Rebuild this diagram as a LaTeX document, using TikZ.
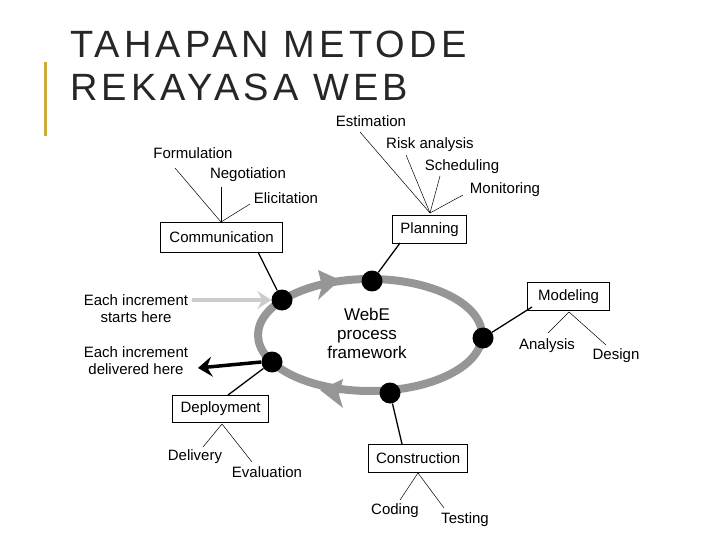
\documentclass[tikz,border=0pt]{standalone}
\usepackage{fontspec}
\setmainfont{Liberation Sans}
\usetikzlibrary{arrows.meta}
\definecolor{gold}{RGB}{205,170,60}
\definecolor{ring}{RGB}{150,150,150}
\begin{document}
\begin{tikzpicture}[x=1pt,y=-1pt,
 box/.style={draw,line width=1.2pt,inner sep=0pt,anchor=north west,font=\fontsize{15}{17}\selectfont},
 lab/.style={font=\fontsize{15}{17}\selectfont,inner sep=1pt},
 thin/.style={line width=0.5pt},
 dot/.style={circle,fill=black,minimum size=21pt,inner sep=0pt}]
\useasboundingbox (0,0) rectangle (720,540);
\fill[gold] (44,62) rectangle (47,136);
\node[anchor=west,font=\fontsize{38}{43}\selectfont\addfontfeatures{LetterSpace=11},align=left,inner sep=0pt,text=black!85] (title) at (70,66) {TAHAPAN METODE\\REKAYASA WEB};
% ring
\draw[ring,line width=8pt] (370,335) ellipse [x radius=112, y radius=56];
\fill[ring] (340,280) -- (318,270) -- (322,286) -- (318,300) -- cycle;
\fill[ring] (320,390) -- (343,379) -- (339,395) -- (343,408) -- cycle;
\node[dot] (d1) at (282,300) {};
\node[dot] (d2) at (372,281) {};
\node[dot] (d3) at (483,338) {};
\node[dot] (d4) at (390,393) {};
\node[dot] (d5) at (272,362) {};
\node[font=\fontsize{17}{19}\selectfont,align=center,inner sep=1pt] (center) at (367,333) {WebE\\process\\framework};
% boxes
\node[box,minimum width=122pt,minimum height=30pt] (comm) at (160,222) {Communication};
\node[box,minimum width=74pt,minimum height=28pt] (plan) at (392,215) {Planning};
\node[box,minimum width=82pt,minimum height=28pt] (model) at (527,282) {Modeling};
\node[box,minimum width=96pt,minimum height=27pt] (deploy) at (172,395) {Deployment};
\node[box,minimum width=99pt,minimum height=28pt] (constr) at (368,444) {Construction};
\draw[line width=1.3pt] (258,252) -- (d1);
\draw[line width=1.3pt] (400,243) -- (d2);
\draw[line width=1.3pt] (532,307) -- (d3);
\draw[line width=1.3pt] (402,444) -- (d4);
\draw[line width=1.3pt] (228,395) -- (d5);
% labels
\node[lab] (f1) at (193,153) {Formulation};
\node[lab] (f2) at (248,175) {Negotiation};
\node[lab] (f3) at (286,198) {Elicitation};
\coordinate (cc) at (221,222);
\draw[thin] (cc) -- (175,168); \draw[thin] (cc) -- (221,187); \draw[thin] (cc) -- (250,204);
\node[lab] (p1) at (371,121) {Estimation};
\node[lab] (p2) at (430,145) {Risk analysis};
\node[lab] (p3) at (462,167) {Scheduling};
\node[lab] (p4) at (505,190) {Monitoring};
\coordinate (pc) at (430,213);
\draw[thin] (pc) -- (360,132); \draw[thin] (pc) -- (406,155); \draw[thin] (pc) -- (440,176); \draw[thin] (pc) -- (463,195);
\node[lab] (m1) at (547,346) {Analysis};
\node[lab] (m2) at (616,356) {Design};
\coordinate (mc) at (569,312);
\draw[thin] (mc) -- (548,333); \draw[thin] (mc) -- (606,345);
\node[lab] (e1) at (195,457) {Delivery};
\node[lab] (e2) at (267,472) {Evaluation};
\coordinate (ec) at (222,424);
\draw[thin] (ec) -- (203,447); \draw[thin] (ec) -- (252,462);
\node[lab] (c1) at (395,511) {Coding};
\node[lab] (c2) at (465,520) {Testing};
\coordinate (ccn) at (418,473);
\draw[thin] (ccn) -- (400,500); \draw[thin] (ccn) -- (444,508);
\node[lab,align=center] (s) at (136,309) {Each increment\\starts here};
\node[lab,align=center] (dl) at (136,361) {Each increment\\delivered here};
\draw[line width=4pt,color=black!20,-{Stealth[length=14pt,width=18pt,inset=5pt]}] (192,300) -- (d1.west);
\draw[line width=3.5pt,-{Stealth[length=14pt,width=20pt,inset=5pt]}] (d5.west) -- (198,368);
\end{tikzpicture}
\end{document}
